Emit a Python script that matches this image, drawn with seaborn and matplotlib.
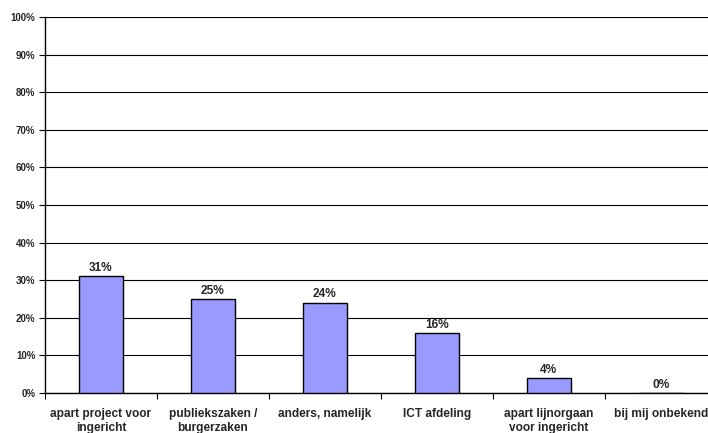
import matplotlib
matplotlib.use("Agg")
import matplotlib.pyplot as plt
import seaborn as sns
import pandas as pd

categories = [
    "apart project voor\ningericht",
    "publiekszaken /\nburgerzaken",
    "anders, namelijk",
    "ICT afdeling",
    "apart lijnorgaan\nvoor ingericht",
    "bij mij onbekend",
]
values = [31, 25, 24, 16, 4, 0]
y_ticks = list(range(0, 101, 10))

sns.set_theme(style="white")
plt.rcParams["font.family"] = ["Liberation Sans", "DejaVu Sans"]
plt.rcParams["font.weight"] = "bold"

df = pd.DataFrame({"cat": categories, "val": values})

fig = plt.figure(figsize=(7.08, 4.33), dpi=100)
ax = fig.add_axes([45 / 708, 40 / 433, 672 / 708, 376 / 433])

sns.barplot(data=df, x="cat", y="val", ax=ax, color="#9999FF",
            saturation=1, width=0.4, edgecolor="black", linewidth=1, zorder=3)

ax.set_ylim(0, 100)
ax.set_xlim(-0.5, len(categories) - 0.5)
ax.set_yticks(y_ticks)
ax.set_yticklabels([f"{t}%" for t in y_ticks], fontsize=7, fontweight="bold")
ax.yaxis.grid(True, color="black", linewidth=0.8, zorder=0)
ax.set_axisbelow(True)

# category ticks sit between the bars
ax.set_xticks([i - 0.5 for i in range(len(categories) + 1)], minor=False)
ax.set_xticklabels([])
ax.set_xticks(range(len(categories)), minor=True)
ax.set_xticklabels(categories, minor=True, fontsize=8.6, fontweight="bold",
                   linespacing=1.15)
ax.tick_params(axis="x", which="major", length=4, width=0.8, color="black",
               direction="out", bottom=True)
ax.tick_params(axis="x", which="minor", length=0, pad=11)
ax.tick_params(axis="y", length=4, width=0.8, color="black", direction="out",
               left=True, pad=3)

for side in ["top", "right"]:
    ax.spines[side].set_visible(False)
for side in ["left", "bottom"]:
    ax.spines[side].set_color("black")
    ax.spines[side].set_linewidth(1)

ax.set_xlabel("")
ax.set_ylabel("")

for i, v in enumerate(values):
    ax.annotate(f"{v}%", (i, v), xytext=(0, 3.8), textcoords="offset points",
                ha="center", va="baseline", fontsize=8.6, fontweight="bold")

fig.savefig("out.png", dpi=100)
